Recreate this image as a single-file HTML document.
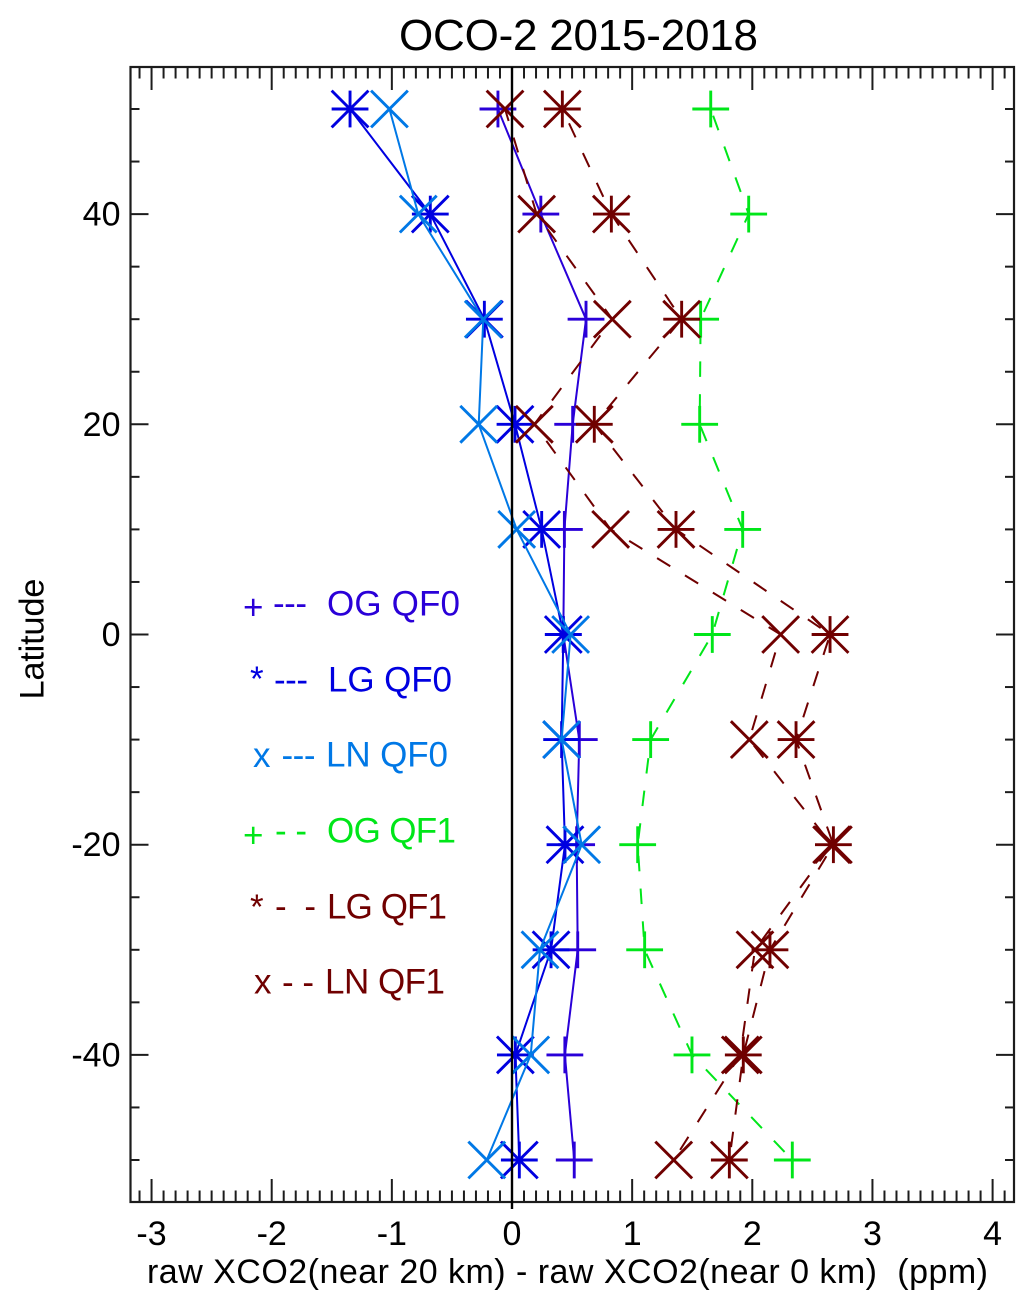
<!DOCTYPE html>
<html lang="en">
<head>
<meta charset="utf-8">
<title>OCO-2 2015-2018</title>
<style>
  html, body { margin: 0; padding: 0; background: #ffffff; }
  #chart { display: block; width: 1033px; height: 1309px; }
  text { font-family: "Liberation Sans", sans-serif; }
</style>
</head>
<body>
<svg id="chart" xmlns="http://www.w3.org/2000/svg" width="1033" height="1309" viewBox="0 0 1033 1309">
  <rect x="0" y="0" width="1033" height="1309" fill="#ffffff"/>
  <text x="399" y="50" font-size="44" textLength="359" fill="#000">OCO-2 2015-2018</text>
  <g id="axes"></g>
  <g id="series"></g>
  <line id="zero-line" stroke="#000" stroke-width="2.4"></line>
  <text x="147" y="1283" font-size="34" textLength="841" xml:space="preserve" style="white-space:pre" fill="#000">raw XCO2(near 20 km) - raw XCO2(near 0 km)  (ppm)</text>
  <text transform="translate(43.5,699.5) rotate(-90)" font-size="34.5" textLength="121" fill="#000">Latitude</text>

  <g font-size="35">
    <g fill="#2a00d8">
      <text x="243" y="619">+</text>
      <text x="273" y="615" textLength="34">---</text>
      <text x="327" y="615.7" textLength="133">OG QF0</text>
    </g>
    <g fill="#0000e0">
      <text x="250" y="691">*</text>
      <text x="274" y="691.5" textLength="34">---</text>
      <text x="328" y="691.7" textLength="124">LG QF0</text>
    </g>
    <g fill="#0078e6">
      <text x="253" y="767">x</text>
      <text x="281.5" y="767" textLength="34">---</text>
      <text x="326" y="766.7" textLength="122">LN QF0</text>
    </g>
    <g fill="#00e619">
      <text x="243" y="847">+</text>
      <text x="275" y="842.5" textLength="32" xml:space="preserve" style="white-space:pre">- -</text>
      <text x="327" y="842.7" textLength="129">OG QF1</text>
    </g>
    <g fill="#700000">
      <text x="250" y="919">*</text>
      <text x="275" y="918" textLength="41" xml:space="preserve" style="white-space:pre">-  -</text>
      <text x="327" y="918.3" textLength="120">LG QF1</text>
    </g>
    <g fill="#700000">
      <text x="254" y="993.3">x</text>
      <text x="282" y="994" textLength="32" xml:space="preserve" style="white-space:pre">- -</text>
      <text x="325" y="993.3" textLength="120">LN QF1</text>
    </g>
  </g>
</svg>
<script>
const latitudes = [50, 40, 30, 20, 10, 0, -10, -20, -30, -40, -50];

const ogQf0 = [-0.117, 0.24, 0.616, 0.505, 0.436, 0.427, 0.56, 0.538, 0.547, 0.44, 0.518];
const lgQf0 = [-1.348, -0.68, -0.23, 0.025, 0.247, 0.427, 0.413, 0.441, 0.325, 0.028, 0.061];
const lnQf0 = [-1.02, -0.78, -0.239, -0.277, 0.039, 0.488, 0.413, 0.58, 0.233, 0.156, -0.21];
const ogQf1 = [1.654, 1.97, 1.57, 1.562, 1.92, 1.667, 1.154, 1.046, 1.104, 1.498, 2.333];
const lgQf1 = [0.419, 0.827, 1.412, 0.685, 1.365, 2.647, 2.364, 2.675, 2.147, 1.925, 1.809];
const lnQf1 = [-0.058, 0.205, 0.835, 0.186, 0.821, 2.236, 1.975, 2.66, 2.022, 1.9, 1.346];

const xTickLabels = [-3, -2, -1, 0, 1, 2, 3, 4];
const yTickLabels = [40, 20, 0, -20, -40];
const yMinorTicks = [50, 45, 35, 30, 25, 15, 10, 5, -5, -10, -15, -25, -30, -35, -45, -50];

const SVGNS = 'http://www.w3.org/2000/svg';
const plotLeft = 130.5, plotRight = 1014, plotTop = 67, plotBottom = 1202;
const axisColor = '#1c1c1c';

function xPos(v) { return 512 + v * 120.15; }
function yPos(lat) { return 634.5 - lat * 10.51; }

const axes = document.getElementById('axes');
const seriesGroup = document.getElementById('series');

function addLine(parent, x1, y1, x2, y2, color, width) {
  const el = document.createElementNS(SVGNS, 'line');
  el.setAttribute('x1', x1);
  el.setAttribute('y1', y1);
  el.setAttribute('x2', x2);
  el.setAttribute('y2', y2);
  el.setAttribute('stroke', color);
  el.setAttribute('stroke-width', width);
  parent.appendChild(el);
  return el;
}

function tickLine(x1, y1, x2, y2, name) {
  const el = addLine(axes, x1, y1, x2, y2, axisColor, 2);
  
  
}

/* frame */
const frame = document.createElementNS(SVGNS, 'rect');
frame.setAttribute('x', plotLeft);
frame.setAttribute('y', plotTop);
frame.setAttribute('width', plotRight - plotLeft);
frame.setAttribute('height', plotBottom - plotTop);
frame.setAttribute('fill', 'none');
frame.setAttribute('stroke', axisColor);
frame.setAttribute('stroke-width', 2.2);


axes.appendChild(frame);

/* x ticks: every 0.1, long on integers */
for (let i = -31; i <= 41; i++) {
  const x = xPos(i / 10);
  const len = i % 10 === 0 ? 23 : 11.5;
  tickLine(x, plotTop, x, plotTop + len, 'x-tick-top');
  tickLine(x, plotBottom, x, plotBottom - len, 'x-tick-bottom');
}

/* y ticks */
yMinorTicks.forEach(function (lat) {
  const y = yPos(lat);
  tickLine(plotLeft, y, plotLeft + 9, y, 'y-tick-left');
  tickLine(plotRight, y, plotRight - 9, y, 'y-tick-right');
});
yTickLabels.forEach(function (lat) {
  const y = yPos(lat);
  tickLine(plotLeft, y, plotLeft + 18, y, 'y-tick-left');
  tickLine(plotRight, y, plotRight - 18, y, 'y-tick-right');
  const t = document.createElementNS(SVGNS, 'text');
  t.setAttribute('x', 120.5);
  t.setAttribute('y', y + 11.5);
  t.setAttribute('text-anchor', 'end');
  t.setAttribute('font-size', 34);
  t.setAttribute('fill', '#000');
  
  
  t.textContent = String(lat);
  axes.appendChild(t);
});

/* x tick labels */
xTickLabels.forEach(function (v) {
  const t = document.createElementNS(SVGNS, 'text');
  t.setAttribute('x', xPos(v));
  t.setAttribute('y', 1245);
  t.setAttribute('text-anchor', 'middle');
  t.setAttribute('font-size', 34);
  t.setAttribute('fill', '#000');
  
  
  t.textContent = String(v);
  axes.appendChild(t);
});

/* zero line */
const zero = document.getElementById('zero-line');
zero.setAttribute('x1', xPos(0));
zero.setAttribute('x2', xPos(0));
zero.setAttribute('y1', plotTop);
zero.setAttribute('y2', plotBottom + 7);

/* markers */
const R = 18.4;
function drawPlus(g, x, y, color) {
  addLine(g, x - R, y, x + R, y, color, 2.9);
  addLine(g, x, y - R, x, y + R, color, 2.9);
}
function drawCross(g, x, y, color) {
  addLine(g, x - R, y - R, x + R, y + R, color, 2.9);
  addLine(g, x - R, y + R, x + R, y - R, color, 2.9);
}
function drawStar(g, x, y, color) {
  drawPlus(g, x, y, color);
  drawCross(g, x, y, color);
}

function drawSeries(name, values, color, marker, dashPhase) {
  const g = document.createElementNS(SVGNS, 'g');
  
  
  const line = document.createElementNS(SVGNS, 'polyline');
  line.setAttribute('points', values.map(function (v, i) {
    return xPos(v).toFixed(2) + ',' + yPos(latitudes[i]).toFixed(2);
  }).join(' '));
  line.setAttribute('fill', 'none');
  line.setAttribute('stroke', color);
  line.setAttribute('stroke-width', 2);
  line.setAttribute('stroke-linejoin', 'round');
  if (dashPhase !== null) {
    line.setAttribute('stroke-dasharray', '15.5 17.3');
    line.setAttribute('stroke-dashoffset', dashPhase);
  }
  
  
  g.appendChild(line);
  values.forEach(function (v, i) {
    const m = document.createElementNS(SVGNS, 'g');
    
    
    marker(m, xPos(v), yPos(latitudes[i]), color);
    g.appendChild(m);
  });
  seriesGroup.appendChild(g);
}

drawSeries('og-qf0', ogQf0, '#2a00d8', drawPlus, null);
drawSeries('lg-qf0', lgQf0, '#0000e0', drawStar, null);
drawSeries('ln-qf0', lnQf0, '#0078e6', drawCross, null);
drawSeries('og-qf1', ogQf1, '#00e619', drawPlus, 25.7);
drawSeries('lg-qf1', lgQf1, '#700000', drawStar, 17);
drawSeries('ln-qf1', lnQf1, '#700000', drawCross, 3);
</script>
</body>
</html>
